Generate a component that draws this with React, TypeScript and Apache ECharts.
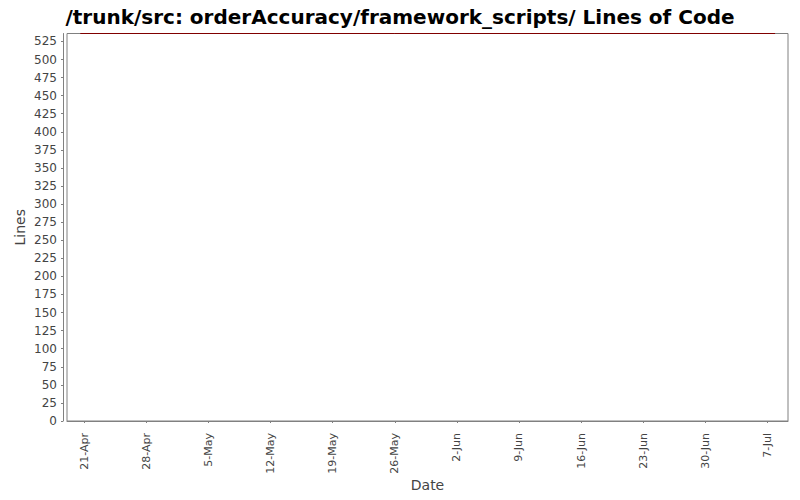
import React, { useEffect, useRef } from 'react';
import * as echarts from 'echarts';

// Line of code history (single flat series)
const pointDates = ['2009-04-20T13:00:00Z', '2009-05-26T00:00:00Z', '2009-07-07T21:00:00Z'];
const pointLines = [536, 536, 536];

// Axis ticks
const dateTicks = [
  '2009-04-21', '2009-04-28', '2009-05-05', '2009-05-12', '2009-05-19', '2009-05-26',
  '2009-06-02', '2009-06-09', '2009-06-16', '2009-06-23', '2009-06-30', '2009-07-07',
];
const lineTicks = [0, 25, 50, 75, 100, 125, 150, 175, 200, 225, 250, 275, 300, 325, 350, 375, 400, 425, 450, 475, 500, 525];

const X_MIN = '2009-04-19T01:00:00Z';
const X_MAX = '2009-07-09T08:00:00Z';
const Y_MAX = 536;

const MONTHS = ['Jan', 'Feb', 'Mar', 'Apr', 'May', 'Jun', 'Jul', 'Aug', 'Sep', 'Oct', 'Nov', 'Dec'];
const FONT = 'DejaVu Sans';
const AXIS_GRAY = '#808080';
const TEXT_GRAY = '#444444';

export default function App() {
  const chartRef = useRef<HTMLDivElement>(null);

  useEffect(() => {
    document.body.style.margin = '0';
    if (!chartRef.current) return;
    const chart = echarts.init(chartRef.current, undefined, { renderer: 'svg' });

    const tickTimes = dateTicks.map((d) => Date.parse(d + 'T00:00:00Z'));

    chart.setOption({
      animation: false,
      backgroundColor: '#ffffff',
      title: {
        text: '/trunk/src: orderAccuracy/framework_scripts/ Lines of Code',
        left: 'center',
        top: 2,
        textStyle: { fontFamily: FONT, fontSize: 20, fontWeight: 'bold', color: '#000000' },
      },
      grid: {
        left: 67,
        top: 33.5,
        right: 12,
        bottom: 79,
        show: true,
        borderColor: AXIS_GRAY,
        borderWidth: 1,
        backgroundColor: '#ffffff',
      },
      xAxis: {
        type: 'value',
        min: Date.parse(X_MIN),
        max: Date.parse(X_MAX),
        offset: 3,
        name: 'Date',
        nameLocation: 'middle',
        nameGap: 54,
        nameMoveOverlap: false,
        nameTextStyle: { fontFamily: FONT, fontSize: 14, color: TEXT_GRAY },
        axisLine: { show: true, lineStyle: { color: AXIS_GRAY, width: 1 } },
        axisTick: {
          show: true,
          length: 2,
          customValues: tickTimes,
          lineStyle: { color: AXIS_GRAY },
        },
        axisLabel: {
          customValues: tickTimes,
          rotate: 90,
          margin: 9,
          fontFamily: FONT,
          fontSize: 11,
          color: TEXT_GRAY,
          formatter: (v: number) => {
            const d = new Date(v);
            return `${d.getUTCDate()}-${MONTHS[d.getUTCMonth()]}`;
          },
        },
        splitLine: { show: false },
      },
      yAxis: {
        type: 'value',
        min: 0,
        max: Y_MAX,
        offset: 4,
        name: 'Lines',
        nameLocation: 'middle',
        nameGap: 36,
        nameMoveOverlap: false,
        nameTextStyle: { fontFamily: FONT, fontSize: 14, color: TEXT_GRAY },
        axisLine: { show: true, lineStyle: { color: AXIS_GRAY, width: 1 } },
        axisTick: {
          show: true,
          length: 2,
          customValues: lineTicks,
          lineStyle: { color: AXIS_GRAY },
        },
        axisLabel: {
          customValues: lineTicks,
          margin: 6,
          fontFamily: FONT,
          fontSize: 12,
          color: TEXT_GRAY,
        },
        splitLine: { show: false },
      },
      series: [
        {
          name: 'Lines',
          type: 'line',
          data: pointDates.map((d, i) => [Date.parse(d), pointLines[i]]),
          showSymbol: false,
          clip: false,
          lineStyle: { color: '#800000', width: 1 },
        },
      ],
    });

    return () => {
      chart.dispose();
    };
  }, []);

  return (
    <div
      ref={chartRef}
      style={{ position: 'fixed', left: 0, top: 0, width: 800, height: 500 }}
    />
  );
}
